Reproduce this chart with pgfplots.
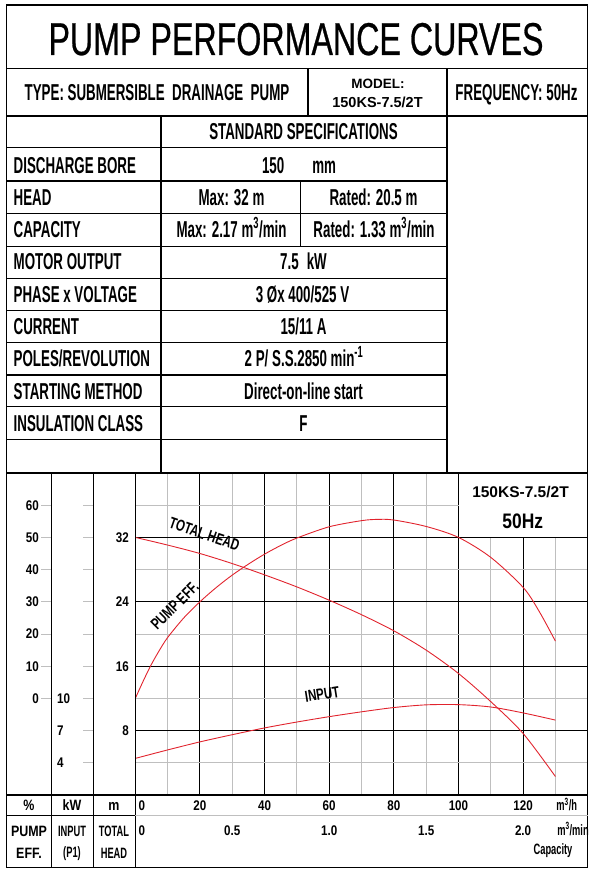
\documentclass[border=0pt]{standalone}
\usepackage{pgfplots}
\pgfplotsset{compat=1.18}
\usepackage{pgfplotstable}
\usepackage{fontspec}
\setmainfont{Liberation Sans}
\newfontfamily\cn{Liberation Sans}[FakeStretch=0.62]
\newfontfamily\cnt{Liberation Sans}[FakeStretch=0.58]
\newfontfamily\cnb{Liberation Sans}[FakeStretch=0.83]
\newfontfamily\cnc{Liberation Sans}[FakeStretch=0.72]
\newfontfamily\ttl{Liberation Sans}[FakeStretch=0.70, FakeBold=0.6]
\definecolor{curve}{RGB}{225,35,45}
\newcommand\tb{\cnt\bfseries\fontsize{23}{25}\selectfont}
\newcommand\tk{\cnb\bfseries\fontsize{14}{16}\selectfont}
\newcommand\tc{\cnc\bfseries\fontsize{16}{18}\selectfont}
\newcommand\tl{\cnb\bfseries\fontsize{15}{17}\selectfont}
\newcommand\tn{\cn\bfseries\fontsize{15}{17}\selectfont}

% total head (m) vs capacity (m3/h)
\pgfplotstableread{
q head
0 32.0
10 31.05
20 30.0
30 28.75
40 27.35
50 25.85
60 24.2
70 22.4
80 20.4
90 18.0
100 15.1
110 11.6
120 7.65
130 2.3
}\headtab
% pump efficiency (%)
\pgfplotstableread{
q eff
0 0
2.5 5.5
5 10.6
7.5 15.0
10 18.9
15 25.0
20 30.0
25 34.4
30 38.3
35 41.7
40 44.8
45 47.5
50 49.8
60 53.3
70 55.2
75 55.6
80 55.4
90 53.4
100 50.0
110 43.8
120 34.5
125 27.0
130 17.8
}\efftab
% input power P1 (kW)
\pgfplotstableread{
q kw
0 4.41
10 5.2
20 5.95
30 6.62
40 7.25
50 7.8
60 8.3
70 8.75
80 9.15
90 9.4
100 9.42
110 9.2
120 8.65
130 7.98
}\inputtab

\begin{document}
\begin{tikzpicture}[x=1pt,y=1pt]
\useasboundingbox (0,0) rectangle (593,-869);

% ---- chart ----
\begin{axis}[
    at={(135.3pt,-795pt)}, anchor=south west,
    scale only axis, width=452.4pt, height=322pt,
    xmin=0, xmax=140, ymin=0, ymax=40,
    xtick={20,40,...,120}, minor xtick={10,30,...,130},
    ytick={8,16,24,32}, minor ytick={4,12,...,36},
    extra x ticks={0},
    extra x tick style={grid=none, xticklabel style={xshift=6.5pt}},
    grid=both,
    major grid style={black, line width=1.1pt},
    minor grid style={gray!50, line width=0.9pt},
    major tick length=0pt, minor tick length=0pt,
    axis line style={black, line width=1.2pt},
    /pgf/number format/assume math mode=true,
    tick label style={font=\tk},
    xticklabel style={anchor=base, inner sep=0pt, yshift=-15.7pt},
    yticklabel style={anchor=east, inner sep=0pt, xshift=-6.3pt},
    clip=false,
]
\fill[white] ([xshift=0.8pt,yshift=0.8pt]axis cs:100,32) rectangle ([xshift=-0.8pt,yshift=-0.8pt]axis cs:140,40);
\addplot[curve, line width=0.9pt, smooth] table[x=q, y=head] {\headtab};
\addplot[curve, line width=0.9pt, smooth] table[x=q, y expr=\thisrow{eff}/2.5+12] {\efftab};
\addplot[curve, line width=0.9pt, smooth] table[x=q, y expr=(\thisrow{kw}-1)/0.75] {\inputtab};
\node[font=\tc, rotate=-19] at (axis cs:21.4,32.4) {TOTAL HEAD};
\node[font=\tc, rotate=45] at (axis cs:12.2,23.5) {PUMP EFF.};
\node[font=\tc, rotate=9] at (axis cs:57.8,12.5) {INPUT};
\end{axis}

% second capacity scale (m3/min)
\begin{axis}[
    at={(135.3pt,-795pt)}, anchor=south west,
    scale only axis, width=452.4pt, height=322pt,
    xmin=0, xmax=2.33333, ymin=0, ymax=40,
    axis line style={draw=none}, ytick=\empty,
    xtick={0.5,1,1.5,2}, xticklabels={0.5,1.0,1.5,2.0},
    extra x ticks={0}, extra x tick labels={0},
    extra x tick style={xticklabel style={xshift=6.5pt}},
    major tick length=0pt,
    tick label style={font=\tk},
    xticklabel style={anchor=base, inner sep=0pt, yshift=-40pt},
]
\end{axis}

% efficiency scale (%)
\begin{axis}[
    at={(41pt,-795pt)}, anchor=south west,
    scale only axis, width=10.5pt, height=322pt,
    xmin=0, xmax=1, ymin=-30, ymax=70,
    xtick=\empty, ytick={0,10,...,60},
    ymajorgrids, major grid style={gray!50, line width=0.9pt},
    axis line style={draw=none}, major tick length=0pt,
    /pgf/number format/assume math mode=true,
    tick label style={font=\tk},
    yticklabel style={anchor=east, inner sep=0pt, xshift=-2pt},
]
\end{axis}

% input scale (kW)
\begin{axis}[
    at={(83pt,-795pt)}, anchor=south west,
    scale only axis, width=10.5pt, height=322pt,
    xmin=0, xmax=1, ymin=1, ymax=31,
    xtick=\empty, ytick={4,7,...,28},
    yticklabels={4,7,10,{},{},{},{},{},{}},
    ymajorgrids, major grid style={gray!50, line width=0.9pt},
    axis line style={draw=none}, major tick length=0pt,
    tick label style={font=\tk},
    yticklabel style={anchor=west, inner sep=0pt, xshift=-26pt},
]
\end{axis}

% ---- rules of the sheet ----
\begin{scope}[line width=1.2pt]
\draw[line width=1.4pt] (6.5,-5) rectangle (587.7,-867.3);
\draw (6.5,-68.3) -- (587.7,-68.3);
\draw (6.5,-116) -- (587.7,-116);
\foreach \yy in {147.7,181,213.3,246.3,278.3,310.7,342.3,375,406.7,439.3}
  \draw (6.5,-\yy) -- (447,-\yy);
\draw (6.5,-473) -- (587.7,-473);
\draw (308,-68.3) -- (308,-116);
\draw (447,-68.3) -- (447,-473);
\draw (161,-116) -- (161,-473);
\draw (300.5,-181) -- (300.5,-246.3);
\draw (51.5,-473) -- (51.5,-867.3);
\draw (93.5,-473) -- (93.5,-867.3);
\draw (135.3,-473) -- (135.3,-867.3);
\draw (6.5,-795) -- (587.7,-795);
\draw (6.5,-815.5) -- (135.3,-815.5);
\draw[gray!50, line width=0.9pt] (135.3,-815.5) -- (587.7,-815.5);
\end{scope}

% ---- texts ----
\node[font=\ttl\fontsize{46}{50}\selectfont, anchor=base, inner sep=0] at (296,-55) {PUMP PERFORMANCE CURVES};
\node[font=\tb, anchor=base, inner sep=0] at (157,-100.7) {TYPE: SUBMERSIBLE\ \ DRAINAGE\ \ PUMP};
\node[font=\bfseries\fontsize{13.5}{15}\selectfont, anchor=base, inner sep=0] at (378,-89) {MODEL:};
\node[font=\bfseries\fontsize{14.5}{16}\selectfont, anchor=base, inner sep=0] at (377.5,-108) {150KS-7.5/2T};
\node[font=\tb, anchor=base, inner sep=0] at (516.5,-100.7) {FREQUENCY: 50Hz};
\node[font=\tb, anchor=base, inner sep=0] at (303.5,-140) {STANDARD SPECIFICATIONS};

\begin{scope}[every node/.style={font=\tb, anchor=base west, inner sep=0}]
\node at (13.5,-173.3) {DISCHARGE BORE};
\node at (13.5,-205.5) {HEAD};
\node at (13.5,-237.8) {CAPACITY};
\node at (13.5,-269.7) {MOTOR OUTPUT};
\node at (13.5,-302) {PHASE x VOLTAGE};
\node at (13.5,-334.2) {CURRENT};
\node at (13.5,-366.5) {POLES/REVOLUTION};
\node at (13.5,-399.5) {STARTING METHOD};
\node at (13.5,-431) {INSULATION CLASS};
\end{scope}
\begin{scope}[every node/.style={font=\tb, anchor=base, inner sep=0}]
\node at (299,-173.3) {150\hspace{28pt}mm};
\node at (231.5,-205.5) {Max: 32 m};
\node at (373.5,-205.5) {Rated: 20.5 m};
\node at (231.5,-237.8) {Max: 2.17 m\textsuperscript{3}/min};
\node at (374,-237.8) {Rated: 1.33 m\textsuperscript{3}/min};
\node at (303.5,-269.7) {7.5\hspace{8pt}kW};
\node at (302.5,-302) {3 Øx 400/525 V};
\node at (303.5,-334.2) {15/11 A};
\node at (304,-366.5) {2 P/ S.S.2850 min\textsuperscript{-1}};
\node at (303.5,-399.5) {Direct-on-line start};
\node at (303.5,-431) {F};
\end{scope}

\node[font=\bfseries\fontsize{15.5}{17}\selectfont, anchor=base, inner sep=0] at (520.5,-497.3) {150KS-7.5/2T};
\node[font=\cnb\bfseries\fontsize{21}{23}\selectfont, anchor=base, inner sep=0] at (522.8,-528.3) {50Hz};

\begin{scope}[every node/.style={anchor=base, inner sep=0}]
\node[font=\tl] at (29,-810.7) {\%};
\node[font=\tl] at (72,-810.7) {kW};
\node[font=\tl] at (114,-810.7) {m};
\node[font=\tl] at (29,-836) {PUMP};
\node[font=\tl] at (29,-858) {EFF.};
\node[font=\tn] at (72,-836) {INPUT};
\node[font=\tn] at (72,-857) {(P1)};
\node[font=\tn] at (114,-836) {TOTAL};
\node[font=\tn] at (114,-858) {HEAD};
\node[font=\tn] at (566.7,-810.7) {m\textsuperscript{3}/h};
\node[font=\tn] at (573,-835) {m\textsuperscript{3}/min};
\node[font=\tn] at (553,-854) {Capacity};
\end{scope}
\end{tikzpicture}
\end{document}
